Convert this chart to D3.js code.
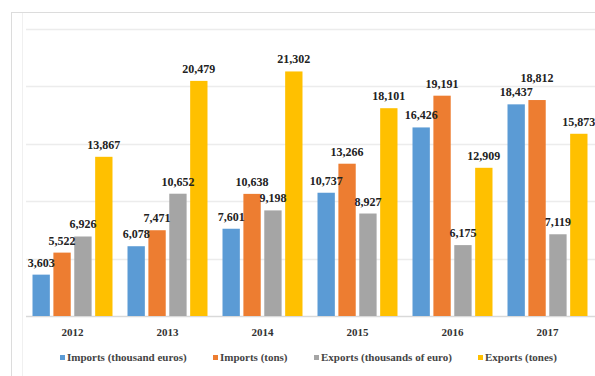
<!DOCTYPE html>
<html lang="en">
<head>
  <meta charset="UTF-8" />
  <title>Imports and exports 2012-2017</title>
  <style>
    body { margin: 0; background: #fff; }
    svg { display: block; }
    text { font-family: "Liberation Serif", "DejaVu Serif", serif; }
  </style>
</head>
<body>
  <svg id="chart" width="595" height="376"></svg>
  <script src="https://d3js.org/d3.v7.min.js"></script>
  <script>
    const years = ["2012", "2013", "2014", "2015", "2016", "2017"];
    const seriesNames = ["Imports (thousand euros)", "Imports (tons)", "Exports (thousands of euro)", "Exports (tones)"];
    const importsEuro = [3603, 6078, 7601, 10737, 16426, 18437];
    const importsTons = [5522, 7471, 10638, 13266, 19191, 18812];
    const exportsEuro = [6926, 10652, 9198, 8927, 6175, 7119];
    const exportsTons = [13867, 20479, 21302, 18101, 12909, 15873];
    const yTicks = [0, 5000, 10000, 15000, 20000, 25000];

    const colors = ["#5b9bd5", "#ed7d31", "#a5a5a5", "#ffc000"];
    const series = [importsEuro, importsTons, exportsEuro, exportsTons];
    const serif = "Liberation Serif, DejaVu Serif, serif";

    const svg = d3.select("#chart");

    // frame
    svg.append("rect")
      .attr("x", 11.5).attr("y", 12.5)
      .attr("width", 600).attr("height", 400)
      .attr("fill", "none").attr("stroke", "#dcdcdc");
    svg.append("line")
      .attr("x1", 22.5).attr("x2", 22.5).attr("y1", 13).attr("y2", 376)
      .attr("stroke", "#f0f0f0");

    const x0 = d3.scaleBand().domain(years).range([25, 595]).paddingInner(0.158).paddingOuter(0.079);
    const x1 = d3.scaleBand().domain(d3.range(4)).range([0, x0.bandwidth()]).paddingInner(0.17);
    const y = d3.scaleLinear().domain([0, 25000]).range([316, 29]);

    // gridlines
    svg.append("g")
      .selectAll("line")
      .data(yTicks)
      .join("line")
      .attr("x1", 26).attr("x2", 595)
      .attr("y1", d => Math.round(y(d)) + 0.5)
      .attr("y2", d => Math.round(y(d)) + 0.5)
      .attr("stroke", d => d === 0 ? "#d9d9d9" : "#ececec")
      .attr("stroke-width", 1.5);

    const groups = svg.append("g")
      .selectAll("g")
      .data(years)
      .join("g")
      .attr("transform", d => `translate(${x0(d)},0)`);

    groups.selectAll("rect")
      .data((d, i) => series.map((s, k) => ({ k, v: s[i] })))
      .join("rect")
      .attr("x", d => x1(d.k))
      .attr("width", x1.bandwidth())
      .attr("y", d => y(d.v))
      .attr("height", d => y(0) - y(d.v))
      .attr("fill", d => colors[d.k]);

    // value labels; push a label up when it would collide with its left neighbour
    groups.each(function (yr, i) {
      let prev = null;
      series.forEach((s, k) => {
        const cx = x1(k) + x1.bandwidth() / 2;
        let ly = y(s[i]) - 8;
        if (prev && Math.abs(prev.ly - ly) < 12) ly = prev.ly - 14;
        const t = d3.select(this).append("text")
          .attr("x", cx)
          .attr("y", ly)
          .attr("text-anchor", "middle")
          .attr("font-family", serif)
          .attr("font-size", "12px")
          .attr("font-weight", "bold")
          .attr("fill", "#222")
          .text(d3.format(",")(s[i]));
        prev = { ly };
      });
    });

    // year labels
    svg.append("g")
      .attr("transform", "translate(0,316)")
      .call(d3.axisBottom(x0).tickSize(0).tickPadding(12))
      .call(g => g.select(".domain").remove())
      .attr("font-family", serif)
      .selectAll("text")
      .attr("font-size", "11px")
      .attr("font-weight", "bold")
      .attr("fill", "#333");

    // legend
    const legendX = [60, 213, 314, 478];
    const legend = svg.append("g")
      .selectAll("g")
      .data(seriesNames)
      .join("g")
      .attr("transform", (d, i) => `translate(${legendX[i]},361)`);
    legend.append("rect")
      .attr("x", 0).attr("y", -6)
      .attr("width", 5).attr("height", 5)
      .attr("fill", (d, i) => colors[i]);
    legend.append("text")
      .attr("x", 7).attr("y", 0)
      .attr("font-family", serif)
      .attr("font-size", "11px")
      .attr("font-weight", "bold")
      .attr("fill", "#444")
      .text(d => d);
  </script>
</body>
</html>
